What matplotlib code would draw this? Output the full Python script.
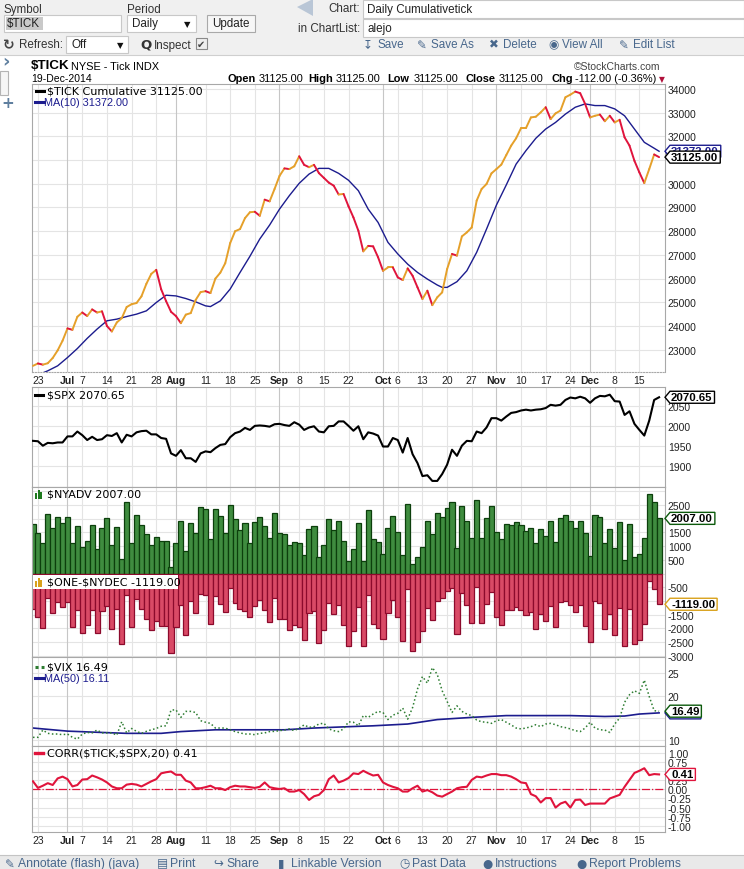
import numpy as np
import pandas as pd
import matplotlib
matplotlib.use('Agg')
import matplotlib.pyplot as plt
from matplotlib.lines import Line2D
from matplotlib.patches import Rectangle, Polygon
from matplotlib.collections import LineCollection
from matplotlib import font_manager

# trading days shown on the chart
days = pd.bdate_range('2014-06-20', '2014-12-19')
holidays = pd.to_datetime(['2014-07-04', '2014-09-01', '2014-11-27'])
days = days[~days.isin(holidays)]

tick_dates = ['2014-06-23', '2014-07-01', '2014-07-07', '2014-07-14', '2014-07-21', '2014-07-28',
              '2014-08-01', '2014-08-11', '2014-08-18', '2014-08-25', '2014-09-02', '2014-09-08',
              '2014-09-15', '2014-09-22', '2014-10-01', '2014-10-06', '2014-10-13', '2014-10-20',
              '2014-10-27', '2014-11-03', '2014-11-10', '2014-11-17', '2014-11-24', '2014-12-01',
              '2014-12-08', '2014-12-15']
tick_labels = ['23', 'Jul', '7', '14', '21', '28', 'Aug', '11', '18', '25', 'Sep', '8', '15', '22',
               'Oct', '6', '13', '20', '27', 'Nov', '10', '17', '24', 'Dec', '8', '15']

# $TICK cumulative
tick_cum = [22320, 22420, 22370, 22430, 22650, 22970, 23380, 23900, 23840, 24390,
            24570, 24420, 24700, 24570, 24620, 24000, 23770, 24150, 24330, 24800,
            24920, 24970, 25250, 25780, 26200, 26370, 25550, 25050, 24600, 24420,
            24120, 24480, 24545, 25100, 25430, 25470, 25390, 26000, 26250, 26650,
            27500, 28000, 28090, 28550, 28800, 28820, 28650, 29330, 29260, 29780,
            30330, 30650, 30620, 30740, 31160, 30800, 30700, 30800, 30450, 30250,
            30050, 29920, 29550, 29570, 29050, 28580, 28020, 27150, 27380, 27360,
            26900, 26330, 26470, 26470, 26050, 25940, 26430, 26120, 25630, 25140,
            25490, 24880, 25210, 25420, 26400, 27040, 26970, 27780, 27950, 28160,
            29290, 29780, 29990, 30440, 30620, 30810, 31210, 31610, 31920, 32350,
            32350, 32800, 32830, 33015, 33230, 32730, 32970, 33090, 33650, 33760,
            33890, 33820, 33370, 32800, 32870, 32920, 32640, 32870, 32590, 32700,
            31960, 31610, 30970, 30480, 30030, 30620, 31237, 31125]

# MA(10) read every couple of days (trading-day number, value)
ma10_day = [0, 3, 5, 7, 9, 11, 13, 15, 17, 19, 21, 23, 25, 27, 29, 31, 33, 35, 36, 38,
            40, 42, 44, 46, 48, 50, 52, 54, 56, 58, 60, 62, 64, 66, 68, 70, 72, 74, 76, 78,
            80, 82, 83, 84, 86, 88, 90, 92, 94, 96, 98, 100, 102, 104, 106, 108, 110, 112,
            114, 116, 118, 120, 122, 124, 126, 127]
ma10_val = [21850, 22110, 22320, 22670, 23050, 23480, 23870, 24220, 24290, 24400,
            24500, 24640, 24990, 25300, 25270, 25160, 25020, 24850, 24820, 25060,
            25560, 26260, 26940, 27670, 28260, 28930, 29500, 30020, 30410, 30650,
            30650, 30440, 30150, 29710, 28930, 28370, 27530, 27040, 26610, 26260,
            25980, 25730, 25630, 25630, 25870, 26330, 27110, 28090, 29100, 29950,
            30830, 31400, 31920, 32310, 32590, 32940, 33230, 33370, 33300, 33300,
            33160, 32870, 32310, 31750, 31500, 31372]

spx = [1963, 1962, 1951, 1958, 1957, 1959, 1959, 1974, 1974, 1986,
       1977, 1965, 1973, 1965, 1967, 1977, 1975, 1982, 1959, 1978,
       1974, 1984, 1987, 1988, 1979, 1979, 1970, 1968, 1932, 1926,
       1940, 1920, 1920, 1911, 1932, 1937, 1935, 1945, 1953, 1955,
       1972, 1982, 1986, 1995, 1990, 2000, 2001, 2000, 1998, 2004,
       2005, 2002, 2000, 2009, 2003, 1990, 1996, 1999, 1986, 1984,
       1999, 2000, 2011, 2011, 2000, 1988, 1999, 1967, 1984, 1981,
       1976, 1949, 1949, 1970, 1965, 1934, 1970, 1930, 1908, 1876,
       1878, 1864, 1864, 1881, 1904, 1941, 1926, 1951, 1963, 1962,
       1986, 1982, 1996, 2019, 2019, 2013, 2023, 2032, 2034, 2038,
       2040, 2038, 2040, 2041, 2044, 2052, 2050, 2052, 2064, 2070,
       2068, 2072, 2068, 2057, 2068, 2074, 2073, 2077, 2061, 2060,
       2027, 2036, 2005, 1990, 1976, 2013, 2064, 2070.65]

nyadv = [1793, 1488, 1122, 2159, 1647, 2074, 1854, 2074, 1098, 1732,
         952, 1196, 1769, 903, 1671, 2013, 1049, 1708, 537, 2586,
         1122, 2147, 1781, 1440, 1025, 1318, 1196, 1171, 244, 1122,
         1928, 830, 1854, 1464, 2416, 2342, 1244, 2342, 2098, 1488,
         2477, 1976, 1586, 1854, 1122, 1891, 2050, 1745, 1293, 2196,
         1464, 1427, 1037, 1159, 1098, 671, 1635, 1745, 610, 1025,
         2001, 1586, 1928, 1196, 464, 878, 1854, 464, 2294, 1257,
         1159, 708, 1671, 2098, 1525, 659, 2538, 329, 610, 976,
         1928, 1440, 2220, 2074, 2367, 2611, 939, 2440, 1928, 1305,
         2660, 1305, 2013, 2440, 1525, 1244, 1806, 1769, 1891, 1769,
         1562, 1671, 1098, 1635, 1379, 1928, 1159, 2037, 2111, 1915,
         1671, 1928, 1464, 647, 2111, 2050, 1122, 1635, 915, 1891,
         500, 1818, 610, 708, 1305, 2879, 2586, 2007]

one_minus_nydec = [-1300, -1580, -1990, -900, -1450, -1020, -1220, -1020, -1960, -1330,
                   -2160, -1880, -1330, -2170, -1380, -1200, -2020, -1300, -2580, -800,
                   -1960, -930, -1300, -1640, -2060, -1740, -1900, -1910, -2890, -1960,
                   -1140, -2240, -1000, -1450, -735, -780, -1820, -815, -1120, -1400,
                   -520, -1070, -1300, -1380, -1600, -1200, -950, -1330, -1770, -880,
                   -1650, -1670, -2060, -1870, -1930, -2420, -1450, -1350, -2540, -2050,
                   -1080, -1470, -1160, -1880, -2650, -2080, -1220, -2650, -800, -1830,
                   -1980, -2400, -1430, -960, -1590, -2440, -565, -2830, -2500, -2080,
                   -1250, -1680, -1000, -900, -620, -540, -2200, -710, -1160, -1790,
                   -475, -1790, -1100, -690, -1600, -1880, -1310, -1330, -1230, -1342,
                   -1525, -1403, -2037, -1488, -1732, -1183, -1952, -1037, -1013, -1159,
                   -1403, -1159, -1915, -2501, -1000, -1074, -2037, -1464, -2220, -1257,
                   -2647, -1305, -2550, -2428, -1842, -281, -573, -1119]

vix = [10.6, 10.6, 12.25, 11.5, 11.35, 11.35, 11.2, 11.35, 10.6, 10.2,
       11.35, 11.7, 11.6, 12.25, 11.6, 11.6, 11.6, 11.1, 14.1, 11.6,
       12.6, 11.95, 11.5, 11.95, 12.3, 12.6, 13.1, 13.2, 16.75, 16.8,
       15.1, 16.45, 16.45, 16.2, 14.35, 14.0, 13.75, 12.7, 12.7, 12.7,
       12.25, 11.9, 11.6, 11.35, 11.35, 11.2, 11.5, 11.6, 11.9, 11.95,
       12.1, 12.25, 12.5, 12.1, 12.7, 13.4, 12.85, 13.0, 13.6, 13.8,
       12.5, 12.1, 11.9, 12.5, 14.1, 14.0, 13.2, 15.5, 15.1, 15.85,
       16.45, 16.2, 14.6, 15.6, 16.0, 17.2, 14.7, 17.3, 21.5, 24.3,
       22.8, 26.3, 24.8, 21.1, 18.7, 16.2, 17.7, 16.45, 15.85, 15.5,
       14.5, 14.1, 14.0, 13.75, 14.35, 14.6, 14.0, 13.4, 12.7, 12.5,
       12.7, 13.0, 13.45, 13.0, 13.6, 13.75, 13.45, 13.0, 12.8, 12.5,
       12.1, 11.9, 12.7, 14.0, 12.7, 12.3, 12.25, 11.7, 13.6, 14.95,
       18.5, 20.2, 21.1, 20.5, 23.5, 19.8, 16.6, 16.49]

vix_ma50_day = [0, 7, 14, 19, 26, 30, 37, 44, 51, 57, 64, 69, 76, 82, 89, 96, 103, 109, 116, 120, 123, 127]
vix_ma50_val = [12.7, 12.0, 11.7, 11.5, 11.5, 11.9, 12.3, 12.3, 12.3, 12.7, 13.0, 13.2, 13.6,
                14.6, 15.1, 15.5, 15.5, 15.5, 15.3, 15.4, 15.85, 16.11]

corr = [0.22, 0.04, 0.10, 0.17, 0.12, 0.30, 0.35, 0.28, 0.08, 0.12,
        0.27, 0.28, 0.38, 0.33, 0.27, 0.19, 0.08, 0.03, 0.03, 0.13,
        0.15, 0.13, 0.08, 0.15, 0.22, 0.28, 0.44, 0.47, 0.49, 0.40,
        0.40, 0.24, 0.19, 0.03, 0.03, 0.06, 0.10, 0.03, 0.03, -0.02,
        0.06, 0.10, 0.08, 0.08, 0.06, 0.04, 0.07, 0.19, 0.06, 0.03,
        0.01, 0.03, -0.06, -0.06, -0.02, -0.13, -0.29, -0.19, -0.15, -0.02,
        0.28, 0.38, 0.19, 0.24, 0.31, 0.44, 0.42, 0.51, 0.44, 0.38,
        0.40, 0.19, 0.12, 0.07, 0.03, -0.06, -0.06, 0.03, 0.10, -0.06,
        -0.02, -0.08, -0.17, -0.20, -0.13, -0.06, 0.03, 0.06, 0.07, 0.26,
        0.35, 0.33, 0.38, 0.42, 0.42, 0.39, 0.39, 0.35, 0.28, 0.19,
        0.17, -0.13, -0.19, -0.36, -0.24, -0.24, -0.50, -0.39, -0.34, -0.50,
        -0.29, -0.28, -0.43, -0.39, -0.39, -0.39, -0.39, -0.25, -0.20, -0.15,
        0.07, 0.26, 0.45, 0.51, 0.58, 0.39, 0.42, 0.41]

# ---------------------------------------------------------------- styling
names = {f.name for f in font_manager.fontManager.ttflist}
if 'Liberation Sans Narrow' in names:
    NARROW, NS = 'Liberation Sans Narrow', 1.0
else:
    NARROW, NS = 'Liberation Sans', 0.88
ARIAL = 'Liberation Sans'
plt.rcParams['font.family'] = ['DejaVu Sans']
plt.rcParams['text.parse_math'] = False   # the tickers carry '$'

UP = '#e5a02a'
DOWN = '#e0143c'
NAVY = '#1c1c8e'
LINK = '#48678c'
GRID = '#e4e4e4'
MGRID = '#c6c6c6'
FRAME = '#a8a8a8'

W, H = 744, 870
fig = plt.figure(figsize=(W / 100, H / 100), dpi=100)
fig.patch.set_facecolor('white')


def fx(x):
    return x / W


def fy(y):
    return 1 - y / H


def ftext(x, y, s, **kw):
    kw.setdefault('va', 'center')
    return fig.text(fx(x), fy(y), s, **kw)


def fline(x0, x1, y0, y1, **kw):
    fig.add_artist(Line2D([fx(x0), fx(x1)], [fy(y0), fy(y1)], transform=fig.transFigure, **kw))


def frect(x0, y0, x1, y1, **kw):
    fig.add_artist(Rectangle((fx(x0), fy(y1)), fx(x1) - fx(x0), fy(y0) - fy(y1),
                             transform=fig.transFigure, **kw))


x = np.arange(len(days))
tick_pos = [days.get_loc(pd.Timestamp(d)) for d in tick_dates]
XL, XR = 32, 665


def make_panel(y0, y1, ylim, yticks, ylabels, grid_y):
    ax = fig.add_axes([fx(XL), fy(y1), fx(XR) - fx(XL), fy(y0) - fy(y1)])
    ax.set_xlim(-0.2, len(days) + 0.2)
    ax.set_ylim(*ylim)
    for sp in ax.spines.values():
        sp.set_color(FRAME)
        sp.set_linewidth(0.8)
    ax.yaxis.tick_right()
    ax.set_yticks(yticks)
    ax.set_yticklabels(ylabels, fontsize=7.5, family=ARIAL, color='#222222')
    ax.tick_params(axis='y', length=0, pad=2)
    ax.set_xticks([])
    for g in grid_y:
        ax.axhline(g, color=GRID, lw=0.8, zorder=0)
    for p, lab in zip(tick_pos, tick_labels):
        ax.axvline(p, color=MGRID if lab.isalpha() else GRID, lw=0.8, zorder=0)
    return ax


def date_labels(ax):
    ax.set_xticks(tick_pos)
    ax.set_xticklabels(tick_labels, fontsize=7.5, family=ARIAL, color='#222222')
    ax.tick_params(axis='x', length=0, pad=2.5)
    for t in ax.get_xticklabels():
        if t.get_text().isalpha():
            t.set_fontweight('bold')


def labels_without(ticks, hidden, fmt='%d'):
    # the value tags sit on top of these labels in the original
    return ['' if v in hidden else fmt % v for v in ticks]


# ---------------------------------------------------------------- main panel
main_ticks = list(range(23000, 35000, 1000))
ax1 = make_panel(85, 373, (22060, 34210), main_ticks, labels_without(main_ticks, [31000]),
                 main_ticks)
ax1.spines['bottom'].set_linestyle((0, (1, 1.5)))
date_labels(ax1)
vals = np.array(tick_cum, dtype=float)
pts = np.column_stack([x, vals])
segs = np.stack([pts[:-1], pts[1:]], axis=1)
seg_colors = np.where(np.diff(vals) >= 0, UP, DOWN)
ax1.add_collection(LineCollection(segs, colors=seg_colors, linewidths=1.4,
                                  capstyle='round', joinstyle='round', zorder=3))
ax1.plot(ma10_day, ma10_val, color=NAVY, lw=1.0, zorder=2)

# ---------------------------------------------------------------- SPX panel
spx_ticks = [1900, 1950, 2000, 2050]
ax2 = make_panel(388, 488, (1849, 2096), spx_ticks, labels_without(spx_ticks, []),
                 [1850, 1900, 1950, 2000, 2050])
ax2.plot(x, spx, color='black', lw=1.5, zorder=3)

# ---------------------------------------------------------------- breadth panel
ny_ticks = [-3000, -2500, -2000, -1500, -1000, -500, 500, 1000, 1500, 2000, 2500]
ax3 = make_panel(488, 658, (-3038, 3148), ny_ticks, labels_without(ny_ticks, [2000, -1000]),
                 range(-3000, 3001, 500))
ax3.bar(x, nyadv, width=1.04, color='#3f8c3f', edgecolor='#0c3f0c', linewidth=0.9, zorder=2)
ax3.bar(x, one_minus_nydec, width=1.04, color='#d94a66', edgecolor='#8c0a2c', linewidth=0.9,
        zorder=2)

# ---------------------------------------------------------------- VIX panel
vix_ticks = [10, 15, 20, 25]
ax4 = make_panel(658, 747, (8.65, 28.7), vix_ticks, labels_without(vix_ticks, [15]),
                 vix_ticks)
ax4.plot(x, vix, color='#2e7d32', lw=1.1, ls=(0, (1, 1.6)), zorder=3)
ax4.plot(vix_ma50_day, vix_ma50_val, color=NAVY, lw=1.2, zorder=2)

# ---------------------------------------------------------------- correlation panel
c_ticks = [-1.0, -0.75, -0.5, -0.25, 0.0, 0.25, 0.5, 0.75, 1.0]
ax5 = make_panel(747, 833, (-1.17, 1.19), c_ticks, labels_without(c_ticks, [0.5], '%.2f'),
                 c_ticks)
ax5.axhline(0, color=DOWN, lw=0.9, ls='-.', zorder=2)
ax5.plot(x, corr, color=DOWN, lw=1.5, zorder=3)
date_labels(ax5)

renderer = fig.canvas.get_renderer()


def value_tag(ax, val, txt, ec, tc='black', z=5):
    yd = ax.transData.transform((0, val))[1]
    t = fig.text(fx(671), yd / H, txt, fontsize=8.2, fontweight='bold', family=ARIAL,
                 color=tc, va='center', ha='left', zorder=z + 1)
    w = t.get_window_extent(renderer).width
    xs = [665, 670, 673 + w, 673 + w, 670]
    ys = [yd, yd + 6, yd + 6, yd - 6, yd - 6]
    fig.add_artist(Polygon(np.column_stack([np.array(xs) / W, np.array(ys) / H]), closed=True,
                           fc='white', ec=ec, lw=1.0, transform=fig.transFigure, zorder=z))


value_tag(ax1, ma10_val[-1], '%.2f' % ma10_val[-1], NAVY, tc=NAVY, z=5)
value_tag(ax1, tick_cum[-1], '%.2f' % tick_cum[-1], 'black', z=7)
value_tag(ax2, spx[-1], '%.2f' % spx[-1], 'black')
value_tag(ax3, nyadv[-1], '%.2f' % nyadv[-1], '#0c5a0c')
value_tag(ax3, one_minus_nydec[-1], '%.2f' % one_minus_nydec[-1], '#d9a21b')
value_tag(ax4, vix_ma50_val[-1], '%.2f' % vix_ma50_val[-1], NAVY, tc=NAVY, z=5)
value_tag(ax4, vix[-1], '%.2f' % vix[-1], '#0c5a0c', z=7)
value_tag(ax5, corr[-1], '%.2f' % corr[-1], DOWN, tc='black')

# ---------------------------------------------------------------- in-panel legends
fline(36, 44, 92, 92, color='black', lw=2.2)
ftext(47, 92, '$TICK Cumulative %.2f' % tick_cum[-1], fontsize=8, color='black')
fline(35, 44, 103, 103, color=NAVY, lw=2.2)
ftext(44.5, 103, 'MA(10) %.2f' % ma10_val[-1], fontsize=7.8, family=ARIAL, color=NAVY)

fline(35, 43, 396, 396, color='black', lw=2.2)
ftext(47, 396, '$SPX %.2f' % spx[-1], fontsize=8, color='black')


def bar_icon(x0, y0, color):
    for dx, hgt in [(0, 6), (2.6, 9), (5.2, 7)]:
        frect(x0 + dx, y0 - hgt, x0 + dx + 2, y0, fc=color, ec='none', zorder=8)


frect(33, 576, 178, 590, fc='white', ec='none', zorder=7)
bar_icon(35, 500, '#1e7a1e')
ftext(47, 495, '$NYADV %.2f' % nyadv[-1], fontsize=8, color='black')
bar_icon(35, 588, '#d9a21b')
ftext(47, 583, '$ONE-$NYDEC %.2f' % one_minus_nydec[-1], fontsize=8, color='black', zorder=9)

fline(35, 44, 668, 668, color='#2e7d32', lw=2.2, ls=(0, (1, 1)))
ftext(47, 668, '$VIX %.2f' % vix[-1], fontsize=8, color='black')
fline(35, 44, 679, 679, color=NAVY, lw=2.2)
ftext(44.5, 679, 'MA(50) %.2f' % vix_ma50_val[-1], fontsize=7.8, family=ARIAL, color=NAVY)

fline(35, 43, 754, 754, color=DOWN, lw=2.4)
ftext(47, 754, 'CORR($TICK,$SPX,20) %.2f' % corr[-1], fontsize=8, color='black')

# ---------------------------------------------------------------- chart header
ftext(31, 66, '$TICK', fontsize=11 * NS, family=NARROW, fontweight='bold', color='black')
ftext(71, 66.5, 'NYSE - Tick INDX', fontsize=9 * NS, family=NARROW, color='black')
ftext(574, 66.5, '\u00a9StockCharts.com', fontsize=8.5 * NS, family=[NARROW, 'DejaVu Sans'],
      color='#444444')
ftext(31, 79, days[-1].strftime('%d-%b-%Y'), fontsize=8.5 * NS, family=NARROW, color='black')
chg = tick_cum[-1] - tick_cum[-2]
last = '%.2f' % tick_cum[-1]
pieces = [('Open', 227, True), (last, 259, False), ('High', 308, True), (last, 336, False),
          ('Low', 387, True), (last, 414, False), ('Close', 465, True), (last, 499, False),
          ('Chg', 551, True), ('%.2f (%.2f%%)' % (chg, 100 * chg / tick_cum[-2]), 575, False)]
for s, xp, b in pieces:
    ftext(xp, 79, s, fontsize=9 * NS, family=NARROW, fontweight='bold' if b else 'normal',
          color='black')
ftext(659, 80, '\u25bc', fontsize=5.5, color='#b0103a')

# left side strip
ftext(2, 62, '\u203a', fontsize=13, fontweight='bold', color='#5f7f9f')
frect(0, 72, 8, 96, fc='#f6f6f6', ec='#b4b4b4', lw=0.8)
ftext(1, 103, '+', fontsize=11, fontweight='bold', color='#5f7f9f')

# ---------------------------------------------------------------- top toolbar
frect(0, 0, W, 56, fc='#f0f0f0', ec='none')
fline(0, W, 56, 56, color='#cfcfcf', lw=0.8)
TS = 9.5 * NS
ftext(4, 10, 'Symbol', fontsize=TS, family=NARROW, color='#333333')
frect(4, 16, 121, 33, fc='white', ec='#c8c8c8', lw=0.8)
frect(6, 18, 43, 31, fc='#c9c9c9', ec='none')
ftext(7, 24.5, '$TICK', fontsize=TS, family=NARROW, color='#222222')
ftext(127, 10, 'Period', fontsize=TS, family=NARROW, color='#333333')
frect(127, 16, 196, 33, fc='white', ec='#c8c8c8', lw=0.8)
ftext(132, 24.5, 'Daily', fontsize=TS, family=NARROW, color='#222222')
ftext(184, 24.5, '\u25bc', fontsize=6, color='#111111')
frect(207, 16, 255, 33, fc='#f7f7f7', ec='#a9a9a9', lw=0.8)
ftext(231, 24.5, 'Update', fontsize=TS, family=NARROW, color='#222222', ha='center')
fig.add_artist(Polygon([(fx(297), fy(8)), (fx(313), fy(0)), (fx(313), fy(17))], closed=True,
                       fc='#b9c6d6', ec='none', transform=fig.transFigure))
ftext(360, 9.5, 'Chart:', fontsize=TS, family=NARROW, color='#333333', ha='right')
frect(363, 1, W, 19, fc='white', ec='#c8c8c8', lw=0.8)
ftext(367, 10, 'Daily Cumulativetick', fontsize=TS, family=NARROW, color='#222222')
ftext(360, 29, 'in ChartList:', fontsize=TS, family=NARROW, color='#333333', ha='right')
frect(363, 20, W, 38, fc='white', ec='#c8c8c8', lw=0.8)
ftext(367, 29, 'alejo', fontsize=TS, family=NARROW, color='#222222')

ftext(3, 45, '\u21bb', fontsize=10, fontweight='bold', color='#444444')
ftext(19, 45.5, 'Refresh:', fontsize=TS, family=NARROW, color='#333333')
frect(66, 37, 128, 54, fc='white', ec='#c8c8c8', lw=0.8)
ftext(71, 45.5, 'Off', fontsize=TS, family=NARROW, color='#222222')
ftext(117, 45.5, '\u25bc', fontsize=6, color='#111111')
ftext(140, 45, 'Q', fontsize=9.5, fontweight='bold', color='#333333')
ftext(154, 45.5, 'Inspect', fontsize=TS, family=NARROW, color='#333333')
frect(196, 39, 207, 50, fc='#eeeeee', ec='#8a8a8a', lw=0.8)
ftext(196.5, 44.5, '\u2714', fontsize=7, color='#444444')

links = [('\u21a7', 'Save', 363), ('\u270e', 'Save As', 417), ('\u2716', 'Delete', 489),
         ('\u25c9', 'View All', 548), ('\u270e', 'Edit List', 619)]
for icon, s, xp in links:
    ftext(xp, 45, icon, fontsize=8.5, family=['DejaVu Sans'], color=LINK)
    ftext(xp + 14, 45.5, s, fontsize=TS, family=NARROW, color=LINK)

# ---------------------------------------------------------------- bottom bar
frect(0, 856, W, H, fc='#e9e9e9', ec='none')
fline(0, W, 856, 856, color='#c4c4c4', lw=0.8)
bottom = [('\u270e', 'Annotate (flash) (java)', 5), ('\u25a4', 'Print', 157),
          ('\u21aa', 'Share', 213), ('\u25ae', 'Linkable Version', 278),
          ('\u25f7', 'Past Data', 399), ('\u25cf', 'Instructions', 482),
          ('\u25cf', 'Report Problems', 576)]
for icon, s, xp in bottom:
    ftext(xp, 864, icon, fontsize=8.5, family=['DejaVu Sans'], color=LINK)
    ftext(xp + 13, 864.5, s, fontsize=10 * NS, family=NARROW, color=LINK)

fig.savefig('out.png', dpi=100)
